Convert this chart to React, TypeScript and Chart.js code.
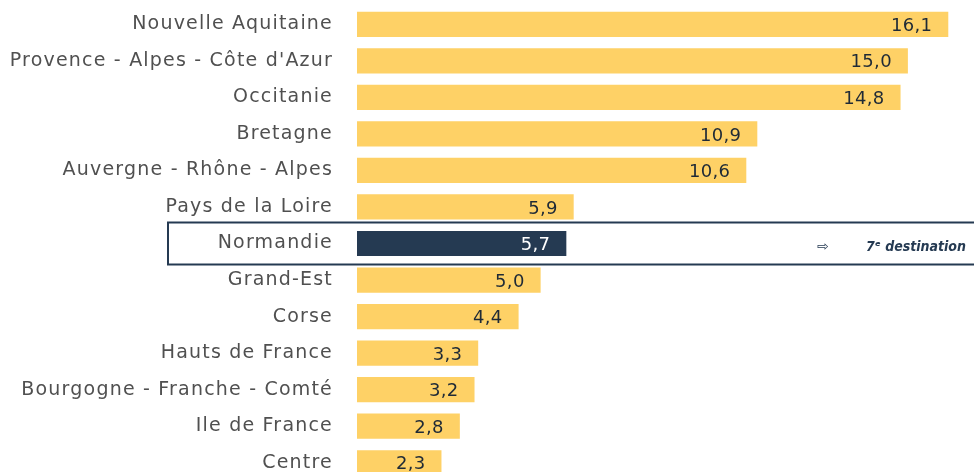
import React, { useEffect, useRef } from "react";
import { Chart, registerables } from "chart.js";

Chart.register(...registerables);

const categories = [
  "Nouvelle Aquitaine",
  "Provence - Alpes - Côte d'Azur",
  "Occitanie",
  "Bretagne",
  "Auvergne - Rhône - Alpes",
  "Pays de la Loire",
  "Normandie",
  "Grand-Est",
  "Corse",
  "Hauts de France",
  "Bourgogne - Franche - Comté",
  "Ile de France",
  "Centre",
];
const values = [16.1, 15.0, 14.8, 10.9, 10.6, 5.9, 5.7, 5.0, 4.4, 3.3, 3.2, 2.8, 2.3];
const highlightCategory = "Normandie";
const annotationArrow = "⇨";
const annotationText = "7ᵉ destination";

const YELLOW = "#FED166";
const NAVY = "#253A52";
const LABEL_FONT = "'DejaVu Sans', sans-serif";
const VALUE_FONT = "'DejaVu Sans', sans-serif";

export default function App() {
  const ref = useRef<HTMLCanvasElement | null>(null);

  useEffect(() => {
    document.body.style.margin = "0";
    const canvas = ref.current;
    if (!canvas) return;
    const hIdx = categories.indexOf(highlightCategory);

    const overlay = {
      id: "overlay",
      beforeDraw(chart: any) {
        chart.ctx.letterSpacing = "1.2px";
      },
      afterDatasetsDraw(chart: any) {
        const ctx = chart.ctx;
        const meta = chart.getDatasetMeta(0);
        ctx.save();
        ctx.letterSpacing = "0.3px";
        ctx.font = `18px ${VALUE_FONT}`;
        ctx.textAlign = "right";
        ctx.textBaseline = "middle";
        meta.data.forEach((bar: any, i: number) => {
          ctx.fillStyle = i === hIdx ? "#FFFFFF" : "#1F2A36";
          const txt = values[i].toFixed(1).replace(".", ",");
          ctx.fillText(txt, bar.x - 16, bar.y + 2);
        });
        ctx.restore();
      },
      afterDraw(chart: any) {
        const ctx = chart.ctx;
        const y = chart.scales.y.getPixelForValue(hIdx);
        const right = chart.chartArea.right;
        ctx.save();
        ctx.letterSpacing = "0px";
        ctx.strokeStyle = NAVY;
        ctx.lineWidth = 2;
        ctx.strokeRect(168, y - 21, right - 168 + 10, 42);
        ctx.fillStyle = NAVY;
        ctx.textBaseline = "middle";
        ctx.textAlign = "center";
        ctx.font = "14px 'DejaVu Sans', sans-serif";
        ctx.fillText(annotationArrow, right - 151, y + 4);
        ctx.textAlign = "left";
        ctx.font = "italic bold 14px 'DejaVu Sans Condensed', 'DejaVu Sans', sans-serif";
        ctx.fillText(annotationText, right - 108, y + 4);
        ctx.restore();
        ctx.letterSpacing = "0px";
      },
    };

    const chart = new Chart(canvas, {
      type: "bar",
      data: {
        labels: categories,
        datasets: [
          {
            data: values,
            backgroundColor: categories.map((c) => (c === highlightCategory ? NAVY : YELLOW)),
            borderWidth: 0,
            barPercentage: 0.69,
            categoryPercentage: 1,
          },
        ],
      },
      options: {
        indexAxis: "y",
        animation: false,
        responsive: false,
        layout: { padding: { top: 6, right: 0, bottom: 0, left: 0 } },
        plugins: { legend: { display: false }, tooltip: { enabled: false } },
        scales: {
          x: {
            min: 0,
            max: 16.8,
            display: false,
          },
          y: {
            grid: { display: false, drawTicks: false },
            border: { display: false },
            ticks: {
              padding: 24,
              color: "#505050",
              font: { family: LABEL_FONT, size: 19 },
            },
            afterFit(scale: any) {
              scale.width = 357;
              scale.paddingTop = 0;
              scale.paddingBottom = 0;
            },
          },
        },
      },
      plugins: [overlay],
    } as any);

    return () => chart.destroy();
  }, []);

  return (
    <div style={{ position: "fixed", top: 0, left: 0, width: 974, height: 481 }}>
      <canvas ref={ref} width={974} height={481} style={{ display: "block" }} />
    </div>
  );
}
